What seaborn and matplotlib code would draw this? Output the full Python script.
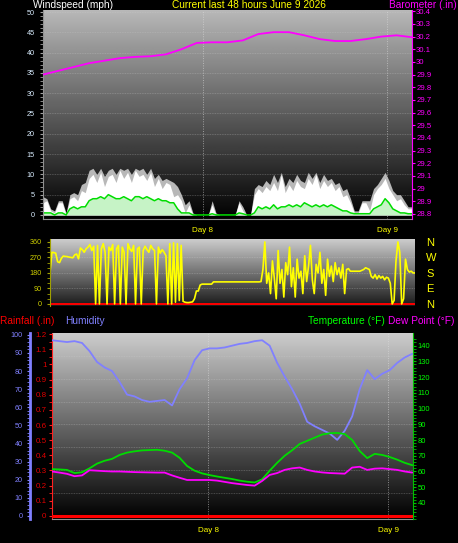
import numpy as np
import matplotlib
matplotlib.use("Agg")
import matplotlib.pyplot as plt
import seaborn as sns

W, H = 458, 543

# hours since start of the 48 h window; midnight of day 8 / day 9
DAY8, DAY9 = 20.8, 44.8
day_labels = ["Day 8", "Day 9"]

# windspeed (mph), every 30 min
wind_gust_hi = [4.5, 4, 1.5, 1, 3.5, 3.5, 0.5, 5, 5.5, 5,
                7.5, 8, 11, 11.5, 10, 11.5, 9.5, 11, 11.5, 10,
                11.5, 11, 11.5, 10, 11.5, 11, 11.5, 10, 11.5, 9,
                10, 8.5, 9, 8.5, 8, 7, 5, 2.5, 3.5, 0.5,
                0, 0, 0, 0, 3.5, 0.5, 0, 0, 0, 0,
                0, 3.5, 2, 0, 0, 6.5, 7.5, 7, 8.5, 7.5,
                10, 8, 10.5, 7, 9, 8, 10, 8.5, 8, 10.5,
                9, 10.5, 8, 10, 8.5, 9, 7.5, 8, 6, 6.5,
                4, 1, 1, 3.5, 3.5, 3.5, 6.5, 7.5, 9, 10.5,
                8.5, 6, 5, 5, 3.5, 2, 2]
wind_gust = [3, 3.5, 1, 0.5, 3, 3, 0, 4, 4.5, 3.5,
             6, 5.5, 9, 10, 8, 10.5, 7, 9.5, 10, 8,
             11, 9, 10.5, 8, 11, 9.5, 10, 8.5, 10.5, 7,
             9, 6.5, 8, 7.5, 4.5, 5, 3.5, 0.5, 2.5, 0,
             0, 0, 0, 0, 2.5, 0, 0, 0, 0, 0,
             0, 3, 1, 0, 0, 5, 6.5, 5.5, 7, 6,
             8, 6, 10, 5.5, 7.5, 6, 8.5, 7, 6.5, 9,
             7.5, 10, 6.5, 8.5, 7, 8, 6, 7, 4.5, 5,
             3, 0.5, 0.5, 3, 3, 1, 5, 6.5, 7.5, 9,
             6.5, 5, 3.5, 4, 2.5, 1.5, 1.5]
wind_avg = [0.5, 0.5, 0.5, 0, 0.5, 0.5, 0, 1.5, 2, 1.5,
            2, 2, 3.5, 4, 4, 4.5, 4, 5, 4.5, 4,
            4, 4.5, 4, 3.5, 4.5, 4.5, 4, 4.5, 4, 3.5,
            4, 3.5, 3.5, 3, 3, 1.5, 0.5, 0.5, 0.5, 0,
            0, 0, 0, 0, 0.3, 0, 0, 0, 0, 0,
            0, 0.5, 0.3, 0, 0, 0.5, 2, 1.5, 2, 1.5,
            2.5, 1.5, 2, 2, 2.5, 2, 2.5, 2, 3, 2.5,
            2, 2.5, 2, 2.5, 2, 2.5, 2, 1.5, 1, 1,
            0.5, 0.3, 0.3, 0.3, 0.3, 0.3, 1.5, 2, 2.5, 4,
            3, 1.5, 1, 0.5, 0.5, 0.3, 0.3]

# barometer (in), every 2 h
baro = [29.90, 29.93, 29.96, 29.99, 30.01, 30.03, 30.04, 30.045, 30.06,
        30.10, 30.15, 30.155, 30.155, 30.17, 30.22, 30.235, 30.235, 30.21,
        30.18, 30.165, 30.165, 30.18, 30.20, 30.21, 30.195]

# wind direction (deg), every 15 min
wind_dir = [180, 300, 298, 295, 245, 240, 265, 278, 276, 275,
            272, 270, 268, 285, 290, 262, 325, 315, 300, 320,
            330, 345, 310, 335, 0, 340, 0, 320, 350, 300,
            0, 330, 310, 345, 0, 320, 340, 0, 330, 300,
            0, 350, 320, 305, 340, 0, 320, 330, 0, 310,
            335, 315, 300, 340, 320, 310, 0, 330, 295, 315,
            300, 280, 0, 350, 0, 355, 10, 350, 20, 340,
            15, 10, 8, 8, 10, 12, 30, 75, 75, 110,
            115, 115, 115, 115, 115, 115, 128, 128, 128, 128,
            128, 128, 128, 128, 128, 128, 128, 128, 128, 128,
            128, 128, 128, 128, 128, 128, 128, 128, 128, 128,
            128, 130, 200, 360, 120, 180, 60, 250, 150, 30,
            310, 120, 200, 40, 240, 170, 330, 100, 210, 40,
            260, 150, 190, 60, 280, 130, 220, 340, 140, 60,
            230, 180, 300, 120, 200, 50, 260, 160, 220, 130,
            240, 170, 210, 150, 230, 60, 200, 205, 190, 190,
            190, 190, 190, 190, 195, 200, 210, 205, 200, 160,
            150, 170, 145, 165, 150, 160, 140, 155, 150, 120,
            0, 20, 250, 360, 300, 0, 30, 260, 200, 185,
            190, 180, 180]
compass = ["N", "W", "S", "E", "N"]

# hourly values
humidity = [97, 96.5, 96, 96.5, 95.5, 91, 85, 82, 80, 74,
            67, 66, 64, 63, 63.5, 64, 61, 70, 76, 86,
            91.5, 92.5, 92.5, 93, 94, 95, 95.5, 96.5, 97, 94,
            84.5, 77, 70, 62, 52, 49.5, 47.5, 45.5, 42, 47,
            55, 70, 80.5, 75.5, 78.5, 80.5, 84.5, 87.5, 89.5]
temperature = [61.5, 61.3, 61, 59, 59.5, 62, 65, 66.8, 68, 70.5,
               72, 72.8, 73.4, 73.6, 73.8, 73.2, 72, 68.7, 63.5, 60.5,
               58.8, 57.7, 56.8, 56, 55.2, 54.2, 53.5, 53, 55, 60.5,
               65.5, 70, 73.5, 77.5, 79.5, 81.5, 83.5, 84.3, 84.5, 83.8,
               80, 73, 68.5, 71.2, 70.5, 69.2, 67.5, 65.5, 64]
dew_point = [60, 59.3, 58.5, 57, 57.5, 60.8, 60.5, 60.2, 60, 60,
             59.8, 59.6, 59.5, 59.4, 59.3, 59.3, 57.5, 56, 54.6, 54.6,
             54.6, 54.6, 54.2, 53.4, 52.6, 52, 51.4, 51, 54, 57.8,
             59, 61, 62, 62.5, 61, 60, 59.4, 59, 58.8, 58.6,
             62.5, 63, 61, 61.8, 62, 61.5, 61, 60, 59.3]
rainfall = [0.0] * 49

wind_hours = np.arange(len(wind_gust)) * 0.5
baro_hours = np.arange(len(baro)) * 2.0
dir_hours = np.arange(len(wind_dir)) * 0.25
hours = np.arange(len(humidity)) * 1.0

sns.set_style("dark")
plt.rcParams['font.family'] = ['Liberation Sans', 'DejaVu Sans']

fig = plt.figure(figsize=(W / 100, H / 100), dpi=100, facecolor='black')


def add_panel(x0, y0, x1, y1):
    return fig.add_axes([x0 / W, 1 - y1 / H, (x1 - x0) / W, (y1 - y0) / H])


def shade(ax, top, bottom):
    x0, x1 = ax.get_xlim()
    y0, y1 = ax.get_ylim()
    grad = np.linspace(top, bottom, 200).reshape(-1, 1)
    ax.imshow(grad, cmap='gray', vmin=0, vmax=1, aspect='auto',
              extent=(x0, x1, y0, y1), origin='upper', zorder=0)
    ax.set_xlim(x0, x1)
    ax.set_ylim(y0, y1)


def hgrid(ax, values):
    for v in values:
        ax.axhline(v, color='#d0d0d0', lw=0.6, ls=(0, (1, 1)), alpha=0.35, zorder=0.6)


def day_axis(ax):
    ax.set_xticks([DAY8, DAY9], day_labels)
    ax.set_xticks([DAY8 - 18, DAY8 - 12, DAY8 - 6, DAY8 + 6, DAY8 + 12, DAY8 + 18], minor=True)
    ax.tick_params(axis='x', which='both', colors='#808080', length=3, labelsize=5.8,
                   labelcolor='#ffff00', pad=2.5)
    for d in (DAY8, DAY9):
        ax.axvline(d, color='#e0e0e0', lw=0.7, ls=(0, (1, 1.5)), alpha=0.55, zorder=0.6)


def plain_spines(ax):
    for s in ax.spines.values():
        s.set_visible(False)
    ax.set_xlabel('')
    ax.set_ylabel('')


# ---------------- panel 1: windspeed + barometer ----------------
ax1 = add_panel(43, 10, 412, 219)
ax1.set_xlim(0, 48)
ax1.set_ylim(-1, 50.5)
shade(ax1, 0.72, 0.0)
hgrid(ax1, range(5, 51, 5))
ax1.fill_between(wind_hours, 0, wind_gust_hi, color='#b8b8b8', lw=0, zorder=1)
ax1.fill_between(wind_hours, 0, wind_gust, color='white', lw=0, zorder=1.1)
ax1.fill_between(wind_hours, 0, wind_avg, color='#c6f3c6', lw=0, zorder=1.2)
sns.lineplot(x=wind_hours, y=wind_avg, ax=ax1, color='#00dd00', lw=1.1, zorder=2)
plain_spines(ax1)
ax1.spines['left'].set_visible(True)
ax1.spines['left'].set_color('#909090')
ax1.spines['bottom'].set_visible(True)
ax1.spines['bottom'].set_color('#909090')
ax1.set_yticks(range(0, 51, 5))
ax1.set_yticks(range(0, 51, 1), minor=True)
ax1.tick_params(axis='y', which='both', colors='#a0a0a0', length=2, labelsize=5.2,
                labelcolor='#d8ecff', pad=4)
day_axis(ax1)

ax1b = ax1.twinx()
ax1b.set_ylim(28.76, 30.41)
sns.lineplot(x=baro_hours, y=baro, ax=ax1b, color='#ff00ff', lw=1.3)
plain_spines(ax1b)
ax1b.spines['right'].set_visible(True)
ax1b.spines['right'].set_color('#ff00ff')
bt = np.round(np.arange(28.8, 30.41, 0.1), 1)
ax1b.set_yticks(bt, [f'{v:g}' for v in bt])
ax1b.tick_params(axis='y', colors='#ff00ff', length=2, labelsize=5.6, pad=1)

# ---------------- panel 2: wind direction ----------------
ax2 = add_panel(50, 239, 415, 306)
ax2.set_xlim(0, 48)
ax2.set_ylim(-12, 377)
shade(ax2, 0.8, 0.1)
hgrid(ax2, [90, 180, 270])
ax2.axhline(0, color='#ff0000', lw=1.4, zorder=1)
sns.lineplot(x=dir_hours, y=wind_dir, ax=ax2, color='#ffff00', lw=1.2, zorder=2)
plain_spines(ax2)
ax2.spines['left'].set_visible(True)
ax2.spines['left'].set_color('#a0a000')
ax2.set_xticks([])
ax2.set_yticks([0, 90, 180, 270, 360])
ax2.set_yticks(range(0, 361, 30), minor=True)
ax2.tick_params(axis='y', which='both', colors='#a0a000', length=2, labelsize=5.2,
                labelcolor='#d0d000', pad=4)
ax2b = ax2.twinx()
ax2b.set_ylim(-12, 377)
plain_spines(ax2b)
ax2b.set_yticks([360, 270, 180, 90, 0], compass)
ax2b.tick_params(axis='y', length=0, labelsize=8, labelcolor='#ffff00', pad=8)

# ---------------- panel 3: rain / humidity / temperature ----------------
ax3 = add_panel(52, 333, 413, 519)
ax3.set_xlim(0, 48.1)
ax3.set_ylim(-0.02, 1.207)
shade(ax3, 0.8, 0.0)
hgrid(ax3, np.arange(0.1509, 1.21, 0.1509))
sns.lineplot(x=hours, y=rainfall, ax=ax3, color='#ff0000', lw=2.2, zorder=3)
plain_spines(ax3)
ax3.spines['left'].set_visible(True)
ax3.spines['left'].set_color('#ff2020')
ax3.spines['left'].set_linestyle((0, (2, 1)))
ax3.spines['bottom'].set_visible(True)
ax3.spines['bottom'].set_color('#909090')
rt = np.round(np.arange(0, 1.21, 0.1), 1)
ax3.set_yticks(rt, [f'{v:g}' for v in rt])
ax3.set_yticks(np.arange(0, 1.21, 0.05), minor=True)
ax3.tick_params(axis='y', which='both', colors='#ff2020', length=2, labelsize=5.8,
                labelcolor='#e00000', pad=2)
day_axis(ax3)

ax3h = ax3.twinx()
ax3h.set_ylim(-1.7, 101)
sns.lineplot(x=hours, y=humidity, ax=ax3h, color='#8080ff', lw=1.3)
plain_spines(ax3h)
ax3h.yaxis.set_ticks_position('left')
ax3h.spines['left'].set_visible(True)
ax3h.spines['left'].set_position(('outward', 16))
ax3h.spines['left'].set_color('#8080ff')
ax3h.spines['left'].set_linewidth(2)
ax3h.set_yticks(range(0, 101, 10))
ax3h.set_yticks(range(0, 101, 2), minor=True)
ax3h.tick_params(axis='y', which='both', left=True, right=False, labelleft=True,
                 labelright=False, colors='#8080ff', length=2, labelsize=5.2, pad=3)

ax3t = ax3.twinx()
ax3t.set_ylim(29.8, 148)
sns.lineplot(x=hours, y=temperature, ax=ax3t, color='#00dd00', lw=1.3)
sns.lineplot(x=hours, y=dew_point, ax=ax3t, color='#ff00ff', lw=1.3)
plain_spines(ax3t)
ax3t.spines['right'].set_visible(True)
ax3t.spines['right'].set_color('#00c000')
ax3t.set_yticks(range(40, 141, 10))
ax3t.set_yticks(range(30, 146, 2), minor=True)
ax3t.tick_params(axis='y', which='both', colors='#00c000', length=2, labelsize=5.4,
                 labelcolor='#00ff00', pad=1.5)


# ---------------- headers ----------------
def header(x, y, s, color, ha='left'):
    fig.text(x / W, 1 - y / H, s, color=color, fontsize=7.3, ha=ha, va='center')


header(33, 4.6, "Windspeed (mph)", 'white')
header(249, 4.6, "Current last 48 hours June 9 2026", '#ffff00', ha='center')
header(457, 4.6, "Barometer (.in)", '#ff00ff', ha='right')
header(0, 321, "Rainfall (.in)", '#ff0000')
header(65, 321, "Humidity", '#8080ff')
header(308, 321, "Temperature (°F)", '#00ff00')
header(454, 321, "Dew Point (°F)", '#ff00ff', ha='right')

fig.savefig('out.png', dpi=100, facecolor='black')
